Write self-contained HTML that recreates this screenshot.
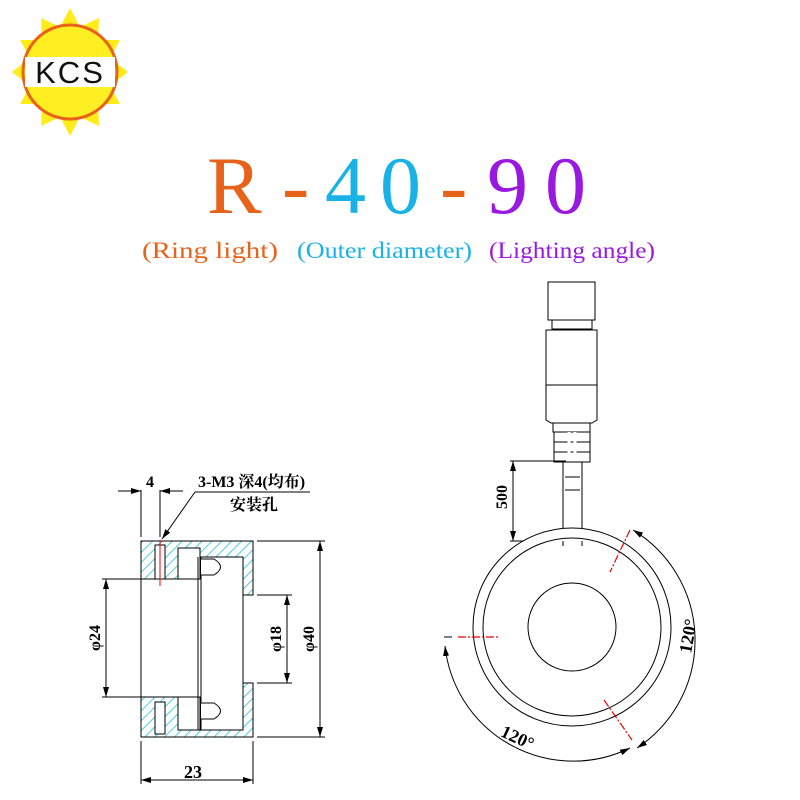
<!DOCTYPE html>
<html><head><meta charset="utf-8"><style>
body{margin:0;background:#fff}
svg{display:block}
</style></head><body>
<svg width="800" height="800" viewBox="0 0 800 800" xmlns="http://www.w3.org/2000/svg">
<defs>
<pattern id="h" width="7" height="7" patternUnits="userSpaceOnUse" patternTransform="rotate(45)">
<rect width="7" height="7" fill="#fff"/><line x1="0" y1="0" x2="0" y2="7" stroke="#3cc8dc" stroke-width="1.8"/>
</pattern>
<marker id="a" viewBox="0 0 10 6" refX="10" refY="3" markerWidth="10" markerHeight="6" orient="auto-start-reverse" markerUnits="userSpaceOnUse"><path d="M0,0 L10,3 L0,6z" fill="#000"/></marker>
</defs>
<!-- logo -->
<g>
<polygon fill="#ffec1a" points="70,8 80,27 99,18 98,40 120,40 110,58 128,72 110,86 120,104 98,104 99,126 80,117 70,136 60,117 41,126 42,104 20,104 30,86 12,72 30,58 20,40 42,40 41,18 60,27"/>
<circle cx="70" cy="72" r="47" fill="#ffee22" stroke="#e8621a" stroke-width="3"/>
<rect x="25" y="57" width="90" height="30" fill="#fff"/>
<text x="70" y="83" text-anchor="middle" font-family="Liberation Sans,sans-serif" font-size="31" letter-spacing="2" fill="#111">KCS</text>
</g>
<!-- title -->
<g font-family="Liberation Serif,serif" font-size="82">
<text x="207" y="213" fill="#e8621a">R</text>
<text x="282" y="213" fill="#e8621a">-</text>
<text x="325" y="213" fill="#19b2e6">4</text>
<text x="380" y="213" fill="#19b2e6">0</text>
<text x="440" y="213" fill="#e8621a">-</text>
<text x="487" y="213" fill="#9a19e0">9</text>
<text x="545" y="213" fill="#9a19e0">0</text>
</g>
<g font-family="Liberation Serif,serif" font-size="23">
<text x="142" y="258" fill="#e8621a" textLength="136" lengthAdjust="spacingAndGlyphs">(Ring light)</text>
<text x="297" y="258" fill="#19b2e6" textLength="175" lengthAdjust="spacingAndGlyphs">(Outer diameter)</text>
<text x="489" y="258" fill="#9a19e0" textLength="166" lengthAdjust="spacingAndGlyphs">(Lighting angle)</text>
</g>
<!-- left side view -->
<g stroke="#000" stroke-width="1" fill="none">
<path fill="url(#h)" d="M141,541 H253 V595 H243 V557 H200 V579 H141Z"/>
<path fill="url(#h)" d="M141,737 H253 V683 H243 V730 H200 V697 H141Z"/>
<rect x="178" y="548" width="22" height="31" fill="#fff"/>
<rect x="178" y="697" width="22" height="33" fill="#fff"/>
<rect x="155" y="545" width="10" height="34" fill="#fff"/>
<rect x="155" y="702" width="10" height="32" fill="#fff"/>
<line x1="198" y1="557" x2="198" y2="730"/><line x1="201" y1="557" x2="201" y2="730"/>
<path d="M201,559 H214 Q227,567 214,575 H201" fill="#fff"/>
<path d="M201,703 H214 Q227,711 214,719 H201" fill="#fff"/>
<line x1="141" y1="579" x2="141" y2="697"/>
<line x1="243" y1="595" x2="243" y2="683"/>
<line x1="160" y1="540" x2="160" y2="586" stroke="#e00" stroke-width="1"/>
<line x1="141" y1="537" x2="141" y2="490"/><line x1="160" y1="537" x2="160" y2="490"/>
<line x1="118" y1="491" x2="141" y2="491" marker-end="url(#a)"/>
<line x1="183" y1="491" x2="160" y2="491" marker-end="url(#a)"/>
<line x1="310" y1="492" x2="195" y2="492"/>
<line x1="195" y1="492" x2="162" y2="539" marker-end="url(#a)"/>
<line x1="141" y1="741" x2="141" y2="784"/><line x1="253" y1="741" x2="253" y2="784"/>
<line x1="141" y1="780" x2="253" y2="780" marker-start="url(#a)" marker-end="url(#a)"/>
<line x1="257" y1="541" x2="325" y2="541"/><line x1="257" y1="737" x2="325" y2="737"/>
<line x1="320" y1="541" x2="320" y2="737" marker-start="url(#a)" marker-end="url(#a)"/>
<line x1="257" y1="595" x2="292" y2="595"/><line x1="257" y1="683" x2="292" y2="683"/>
<line x1="287" y1="595" x2="287" y2="683" marker-start="url(#a)" marker-end="url(#a)"/>
<line x1="102" y1="579" x2="141" y2="579"/><line x1="102" y1="697" x2="141" y2="697"/>
<line x1="106" y1="579" x2="106" y2="697" marker-start="url(#a)" marker-end="url(#a)"/>
</g>
<g font-family="Liberation Serif,'Noto Serif CJK SC',serif" font-weight="bold" font-size="16" fill="#000">
<text x="146" y="487">4</text>
<text x="198" y="487">3-M3 深4(均布)</text>
<text x="230" y="510">安装孔</text>
<text x="184" y="778" font-size="18">23</text>
<text transform="translate(100,638) rotate(-90)" text-anchor="middle">φ24</text>
<text transform="translate(281,639) rotate(-90)" text-anchor="middle">φ18</text>
<text transform="translate(314,639) rotate(-90)" text-anchor="middle">φ40</text>
<text transform="translate(507,497) rotate(-90)" text-anchor="middle">500</text>
<text transform="translate(694,637) rotate(-80)" text-anchor="middle" font-size="18">120°</text>
<text transform="translate(515,743) rotate(25)" text-anchor="middle" font-size="18">120°</text>
</g>
<!-- right view -->
<g stroke="#000" stroke-width="1" fill="none">
<rect x="548" y="282" width="47" height="38"/>
<rect x="552" y="320" width="40" height="9"/>
<rect x="546" y="330" width="51" height="55"/>
<path d="M546,385 H597 V420 L592,423 H551 L546,420Z"/>
<rect x="553" y="423" width="37" height="9"/>
<rect x="554" y="432" width="36" height="30"/>
<line x1="554" y1="442" x2="590" y2="442"/><line x1="554" y1="452" x2="590" y2="452"/>
<line x1="569" y1="432" x2="569" y2="462" stroke="#fff" stroke-width="3"/>
<line x1="575" y1="432" x2="575" y2="462" stroke="#fff" stroke-width="3"/>
<rect x="563" y="462" width="19" height="85" fill="#fff"/>
<line x1="565" y1="477" x2="580" y2="477"/><line x1="565" y1="490" x2="580" y2="490"/>
<line x1="510" y1="461" x2="566" y2="461"/><line x1="510" y1="541" x2="566" y2="541"/>
<line x1="513" y1="461" x2="513" y2="541" marker-start="url(#a)" marker-end="url(#a)"/>
<circle cx="572" cy="627" r="99" fill="#fff"/>
<circle cx="572" cy="627" r="89"/>
<circle cx="572" cy="627" r="44"/>
<line x1="563" y1="541" x2="563" y2="546"/><line x1="582" y1="541" x2="582" y2="546"/>
<path d="M633,530 A129,129 0 0 1 637,748" marker-start="url(#a)" marker-end="url(#a)"/>
<path d="M445,646 A129,129 0 0 0 630,748" marker-start="url(#a)" marker-end="url(#a)"/>
<line x1="444" y1="637" x2="452" y2="637"/>
</g>
<g stroke="#e00" stroke-width="1.2" stroke-dasharray="8,2,2,2" fill="none">
<line x1="630" y1="530" x2="610" y2="572"/>
<line x1="458" y1="637" x2="498" y2="637"/>
<line x1="604" y1="700" x2="632" y2="740"/>
</g>
</svg>
</body></html>
